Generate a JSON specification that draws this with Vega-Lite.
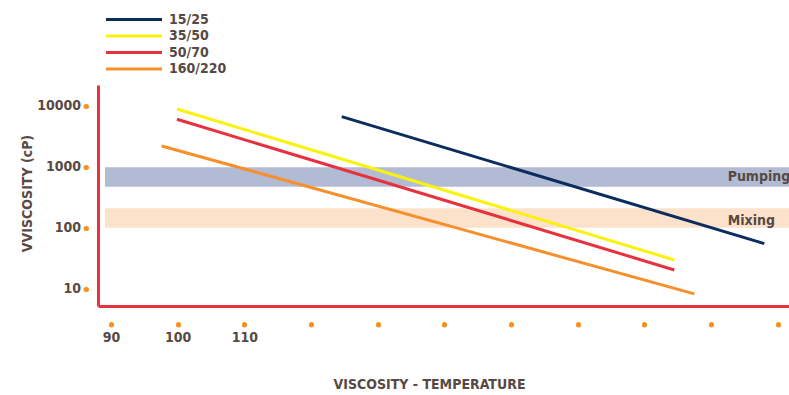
{
  "$schema": "https://vega.github.io/schema/vega-lite/v6.json",
  "width": 691,
  "height": 221,
  "autosize": {"type": "none"},
  "padding": {"left": 98, "top": 85, "right": 0, "bottom": 89},
  "config": {
    "view": {"stroke": null},
    "axis": {"grid": false},
    "font": "DejaVu Sans Condensed, DejaVu Sans"
  },
  "datasets": {
    "bands": [
      {"band": "Pumping", "tStart": 89.1, "tEnd": 191.7, "lo": 475, "hi": 990},
      {"band": "Mixing", "tStart": 89.1, "tEnd": 191.7, "lo": 101, "hi": 210}
    ],
    "bandLabels": [
      {"label": "Pumping", "temp": 182.5, "visc": 589},
      {"label": "Mixing", "temp": 182.5, "visc": 112}
    ],
    "lines": [
      {"grade": "15/25", "temp": 124.6, "visc": 6690},
      {"grade": "15/25", "temp": 188.0, "visc": 55.3},
      {"grade": "35/50", "temp": 99.9, "visc": 8930},
      {"grade": "35/50", "temp": 174.5, "visc": 29.9},
      {"grade": "50/70", "temp": 99.9, "visc": 6050},
      {"grade": "50/70", "temp": 174.5, "visc": 20.5},
      {"grade": "160/220", "temp": 97.6, "visc": 2210},
      {"grade": "160/220", "temp": 177.5, "visc": 8.3}
    ]
  },
  "resolve": {"axis": {"x": "independent", "y": "independent"}},
  "layer": [
    {
      "data": {"name": "bands"},
      "mark": {"type": "rect"},
      "encoding": {
        "x": {
          "field": "tStart", "type": "quantitative",
          "scale": {"domain": [88.05, 191.7], "nice": false, "zero": false},
          "axis": {"domain": true, "domainColor": "#e8333f", "domainWidth": 3, "ticks": false, "labels": false, "title": null}
        },
        "x2": {"field": "tEnd"},
        "y": {
          "field": "lo", "type": "quantitative",
          "scale": {"type": "log", "domain": [5.26, 22080], "nice": false},
          "axis": {"domain": true, "domainColor": "#e8333f", "domainWidth": 3, "ticks": false, "labels": false, "title": null}
        },
        "y2": {"field": "hi"},
        "fill": {
          "field": "band", "type": "nominal",
          "scale": {"domain": ["Pumping", "Mixing"], "range": ["#b2bbd4", "#fde2cb"]},
          "legend": null
        }
      }
    },
    {
      "data": {"name": "lines"},
      "mark": {"type": "line", "strokeWidth": 3},
      "encoding": {
        "x": {
          "field": "temp", "type": "quantitative",
          "axis": {
            "orient": "bottom", "offset": 18, "domain": false,
            "values": [90, 100, 110, 120, 130, 140, 150, 160, 170, 180, 190],
            "labelExpr": "datum.value <= 110 ? datum.label : ''",
            "tickCap": "round", "tickWidth": 5, "tickSize": 0.5, "tickColor": "#f7901e",
            "labelPadding": 6, "labelFontSize": 14, "labelFontWeight": "bold", "labelColor": "#574943",
            "title": "VISCOSITY - TEMPERATURE", "titleFontSize": 14, "titleFontWeight": "bold", "titleColor": "#574943",
            "titleX": 331, "titleY": 60, "titleBaseline": "middle", "titleAlign": "center"
          }
        },
        "y": {
          "field": "visc", "type": "quantitative",
          "axis": {
            "orient": "left", "offset": 12, "domain": false,
            "values": [10, 100, 1000, 10000], "format": "d",
            "tickCap": "round", "tickWidth": 5, "tickSize": 0.5, "tickColor": "#f7901e",
            "labelPadding": 5, "labelFontSize": 14, "labelFontWeight": "bold", "labelColor": "#574943",
            "title": "VVISCOSITY  (cP)", "titleFontSize": 14, "titleFontWeight": "bold", "titleColor": "#574943",
            "titleAngle": -90, "titleX": -59, "titleY": 108, "titleAlign": "center", "titleBaseline": "middle"
          }
        },
        "color": {
          "field": "grade", "type": "nominal",
          "scale": {"domain": ["15/25", "35/50", "50/70", "160/220"], "range": ["#0c2c5f", "#fbf20c", "#e8313f", "#f5902c"]},
          "legend": {
            "orient": "none", "legendX": 27.5, "legendY": -74, "title": null,
            "symbolType": "M-4,0H4", "symbolSize": 196, "symbolStrokeWidth": 3, "symbolFillColor": "transparent",
            "labelFontSize": 14, "labelFontWeight": "bold", "labelColor": "#574943", "labelOffset": 26.5,
            "rowPadding": 0.5
          }
        }
      }
    },
    {
      "data": {"name": "bandLabels"},
      "mark": {"type": "text", "align": "left", "baseline": "alphabetic", "fontSize": 14, "fontWeight": "bold", "color": "#574943"},
      "encoding": {
        "x": {"field": "temp", "type": "quantitative", "axis": null},
        "y": {"field": "visc", "type": "quantitative", "axis": null},
        "text": {"field": "label"}
      }
    }
  ]
}
